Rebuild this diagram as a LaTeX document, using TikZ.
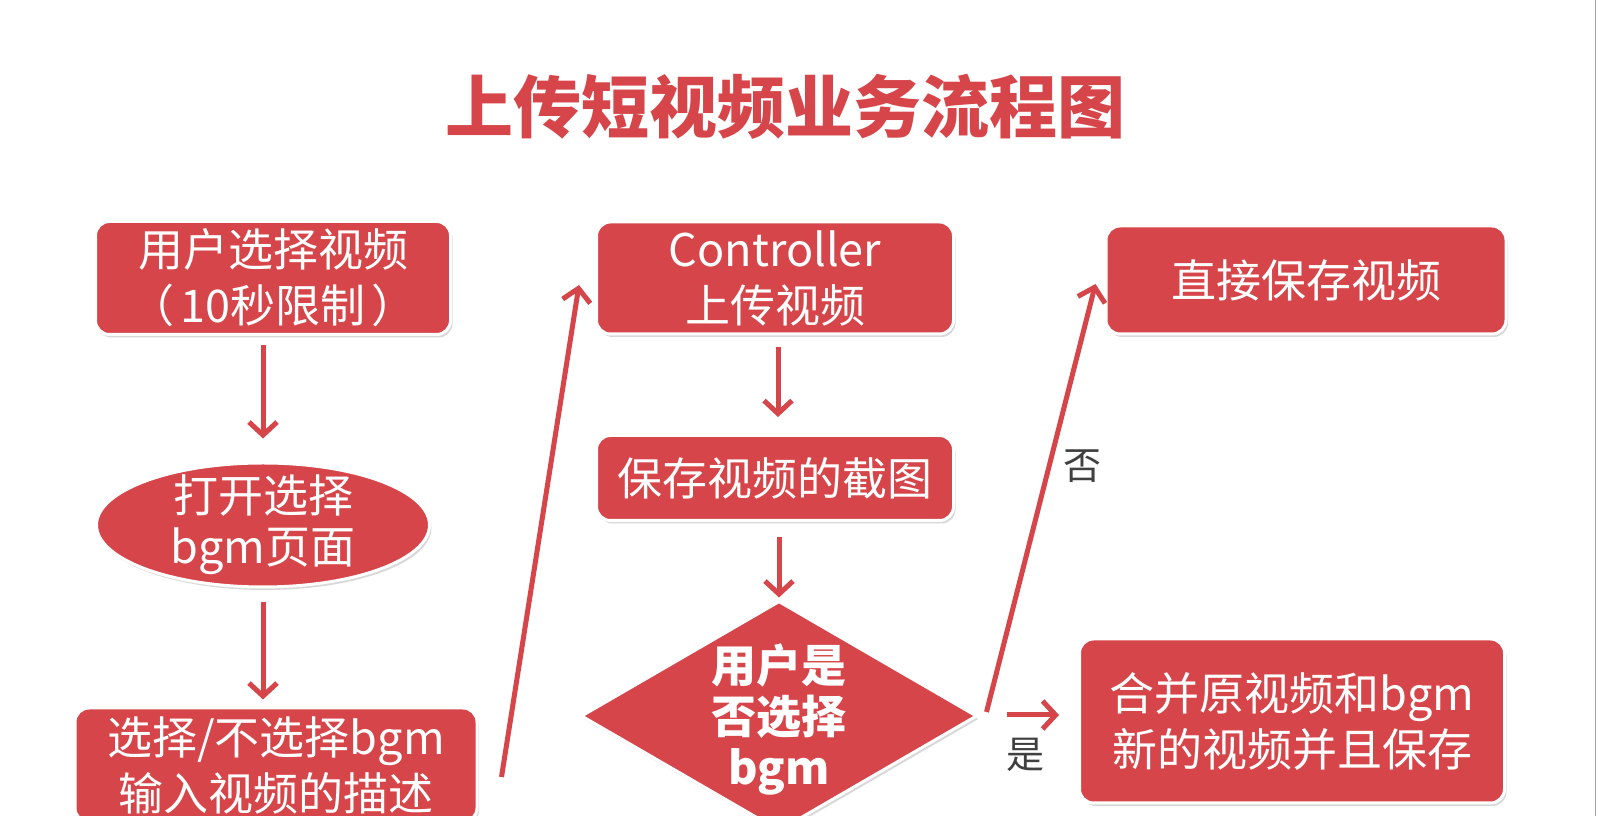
\documentclass[tikz,border=0pt]{standalone}
\usepackage{fontspec}
\setmainfont{Noto Sans CJK SC}
\usetikzlibrary{shapes.geometric,arrows.meta,shadows}
\definecolor{boxred}{RGB}{214,69,73}
\definecolor{lblgray}{RGB}{64,64,64}
\tikzset{
  base/.style={fill=boxred, draw=white, line width=3pt, text=white,
    font=\fontsize{45}{56}\selectfont, align=center, inner sep=0pt,
    drop shadow={shadow xshift=2pt, shadow yshift=-3pt, opacity=0.3}},
  rbox/.style={base, rectangle, rounded corners=14pt},
  intext/.style={text=white, align=center, inner sep=0pt},
  arr/.style={draw=boxred, line width=5pt, -{Straight Barb[length=13pt,width=28pt]}},
  lbl/.style={text=lblgray, font=\fontsize{38}{38}\selectfont, inner sep=0pt},
}
\begin{document}
\begin{tikzpicture}[x=1pt,y=1pt]
\useasboundingbox (0,0) rectangle (1598,816);
\fill[white] (0,0) rectangle (1598,816);
\draw[gray!70, line width=1pt] (1595,0) -- (1595,816);

\node[text=boxred, font=\fontsize{68}{68}\selectfont\bfseries, inner sep=0pt] (title) at (785,709) {上传短视频业务流程图};

% left column
\node[rbox, minimum width=355pt, minimum height=113pt] (box1) at (273,538) {用户选择视频\\（\hspace{6pt}10秒限制\hspace{6pt}）};
\node[base, ellipse, minimum width=333pt, minimum height=124pt] (ell) at (263,291) {};
\node[intext, font=\fontsize{45}{51}\selectfont] (ellT) at (ell.center) {打开选择\\bgm页面};
\node[rbox, minimum width=402pt, minimum height=114pt] (box3) at (276,51) {选择/不选择bgm\\输入视频的描述};

% middle column
\node[rbox, minimum width=357pt, minimum height=112pt] (box4) at (775,538) {Controller\\上传视频};
\node[rbox, minimum width=357pt, minimum height=85pt] (box5) at (775,338) {保存视频的截图};
\node[base, diamond, minimum width=396pt, minimum height=230pt] (dia) at (779,100) {};
\node[intext, font=\fontsize{45}{51}\selectfont\bfseries] (diaT) at ([yshift=-4pt]dia.center) {用户是\\否选择\\bgm};

% right column
\node[rbox, minimum width=400pt, minimum height=108pt] (box6) at (1306,536) {直接保存视频};
\node[rbox, minimum width=425pt, minimum height=164pt] (box7) at (1292,95) {合并原视频和bgm\\新的视频并且保存};

% connectors
\draw[arr, shorten <=9pt, shorten >=23pt] (box1.south -| ell.north) -- (ell.north);
\draw[arr, shorten <=14pt, shorten >=7pt] (ell.south) -- (ell.south |- box3.north);
\draw[arr] ([xshift=23pt,yshift=-12pt]box3.east) -- ([xshift=-16pt,yshift=-7pt]box4.west);
\draw[arr, shorten <=12pt, shorten >=17pt] ([xshift=3pt]box4.south) -- ([xshift=3pt]box5.north);
\draw[arr, shorten <=15pt, shorten >=2pt] ([xshift=4pt]box5.south) -- (dia.north);
\draw[arr] ([xshift=8pt,yshift=4pt]dia.east) -- ([xshift=-9pt,yshift=-4pt]box6.west);
\draw[arr] ([xshift=28pt,yshift=1pt]dia.east) -- ([xshift=-19pt,yshift=6pt]box7.west);

\node[lbl] (no) at (1082,350) {否};
\node[lbl] (yes) at (1025,61) {是};
\end{tikzpicture}
\end{document}
